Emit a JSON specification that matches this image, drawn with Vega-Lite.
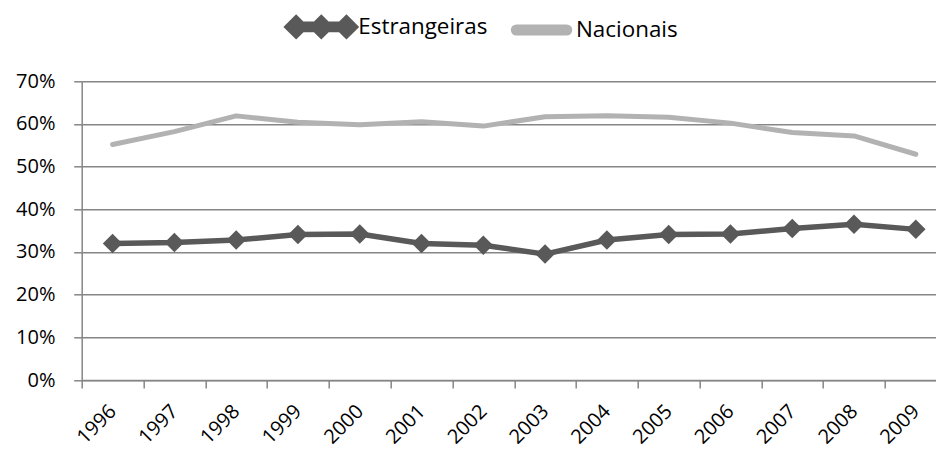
{
  "$schema": "https://vega.github.io/schema/vega-lite/v6.json",
  "autosize": {"type": "none"},
  "width": 854.3,
  "height": 298.7,
  "padding": {"left": 81.7, "top": 81.3, "right": 0, "bottom": 70},
  "background": "white",
  "config": {
    "view": {"stroke": null},
    "font": "Open Sans",
    "axis": {
      "domainColor": "#868686",
      "domainWidth": 1.5,
      "tickColor": "#868686",
      "tickWidth": 1.5,
      "tickSize": 8,
      "gridColor": "#868686",
      "gridWidth": 1.5,
      "labelColor": "#000000",
      "labelFont": "Open Sans",
      "labelFontSize": 20,
      "title": null
    }
  },
  "data": {
    "values": [
      {"ano": "1996", "serie": "Estrangeiras", "valor": 0.320},
      {"ano": "1997", "serie": "Estrangeiras", "valor": 0.322},
      {"ano": "1998", "serie": "Estrangeiras", "valor": 0.328},
      {"ano": "1999", "serie": "Estrangeiras", "valor": 0.341},
      {"ano": "2000", "serie": "Estrangeiras", "valor": 0.342},
      {"ano": "2001", "serie": "Estrangeiras", "valor": 0.320},
      {"ano": "2002", "serie": "Estrangeiras", "valor": 0.316},
      {"ano": "2003", "serie": "Estrangeiras", "valor": 0.295},
      {"ano": "2004", "serie": "Estrangeiras", "valor": 0.328},
      {"ano": "2005", "serie": "Estrangeiras", "valor": 0.341},
      {"ano": "2006", "serie": "Estrangeiras", "valor": 0.342},
      {"ano": "2007", "serie": "Estrangeiras", "valor": 0.355},
      {"ano": "2008", "serie": "Estrangeiras", "valor": 0.365},
      {"ano": "2009", "serie": "Estrangeiras", "valor": 0.353},
      {"ano": "1996", "serie": "Nacionais", "valor": 0.552},
      {"ano": "1997", "serie": "Nacionais", "valor": 0.582},
      {"ano": "1998", "serie": "Nacionais", "valor": 0.619},
      {"ano": "1999", "serie": "Nacionais", "valor": 0.604},
      {"ano": "2000", "serie": "Nacionais", "valor": 0.598},
      {"ano": "2001", "serie": "Nacionais", "valor": 0.605},
      {"ano": "2002", "serie": "Nacionais", "valor": 0.595},
      {"ano": "2003", "serie": "Nacionais", "valor": 0.617},
      {"ano": "2004", "serie": "Nacionais", "valor": 0.619},
      {"ano": "2005", "serie": "Nacionais", "valor": 0.616},
      {"ano": "2006", "serie": "Nacionais", "valor": 0.602},
      {"ano": "2007", "serie": "Nacionais", "valor": 0.580},
      {"ano": "2008", "serie": "Nacionais", "valor": 0.572},
      {"ano": "2009", "serie": "Nacionais", "valor": 0.529}
    ]
  },
  "encoding": {
    "x": {
      "field": "ano",
      "type": "ordinal",
      "scale": {"type": "band", "range": [0, 865], "paddingInner": 0, "paddingOuter": 0},
      "axis": {
        "labelAngle": -45,
        "labelAlign": "right",
        "labelBaseline": "middle",
        "labelPadding": 20,
        "labelFontSize": 20,
        "tickBand": "extent",
        "grid": false
      }
    },
    "y": {
      "field": "valor",
      "type": "quantitative",
      "scale": {"domain": [0, 0.7], "nice": false, "zero": true},
      "axis": {
        "values": [0, 0.1, 0.2, 0.3, 0.4, 0.5, 0.6, 0.7],
        "format": ".0%",
        "labelPadding": 18.7,
        "grid": true
      }
    },
    "color": {
      "field": "serie",
      "type": "nominal",
      "scale": {"domain": ["Estrangeiras", "Nacionais"], "range": ["#595959", "#b2b2b2"]},
      "legend": {
        "orient": "none",
        "direction": "horizontal",
        "legendX": 202.6,
        "legendY": -91.5,
        "title": null,
        "symbolSize": 4624,
        "symbolStrokeWidth": 0,
        "labelOffset": 0,
        "columnPadding": 14.7,
        "labelFont": "Open Sans",
        "labelFontSize": 22.4,
        "labelColor": "#000000",
        "encode": {
          "symbols": {
            "update": {
              "shape": {"signal": "datum.value === 'Estrangeiras' ? 'M-0.74,-0.08H0.74V0.08H-0.74Z M-1,0L-0.74,-0.26L-0.48,0L-0.74,0.26Z M-0.26,0L0,-0.26L0.26,0L0,0.26Z M0.48,0L0.74,-0.26L1,0L0.74,0.26Z' : 'M-0.68,-0.09H0.8A0.09,0.09 0 0 1 0.8,0.09H-0.68A0.09,0.09 0 0 1 -0.68,-0.09Z'"},
              "fill": {"signal": "datum.value === 'Estrangeiras' ? '#595959' : '#b2b2b2'"},
              "fillOpacity": {"value": 1},
              "opacity": {"value": 1},
              "strokeWidth": {"value": 0}
            }
          }
        }
      }
    }
  },
  "layer": [
    {
      "mark": {"type": "line", "strokeJoin": "round", "strokeCap": "round"},
      "encoding": {
        "strokeWidth": {
          "field": "serie",
          "type": "nominal",
          "scale": {"domain": ["Estrangeiras", "Nacionais"], "range": [5.5, 5]},
          "legend": null
        }
      }
    },
    {
      "transform": [{"filter": "datum.serie === 'Estrangeiras'"}],
      "mark": {"type": "point", "shape": "diamond", "filled": true, "size": 380, "opacity": 1}
    }
  ]
}
